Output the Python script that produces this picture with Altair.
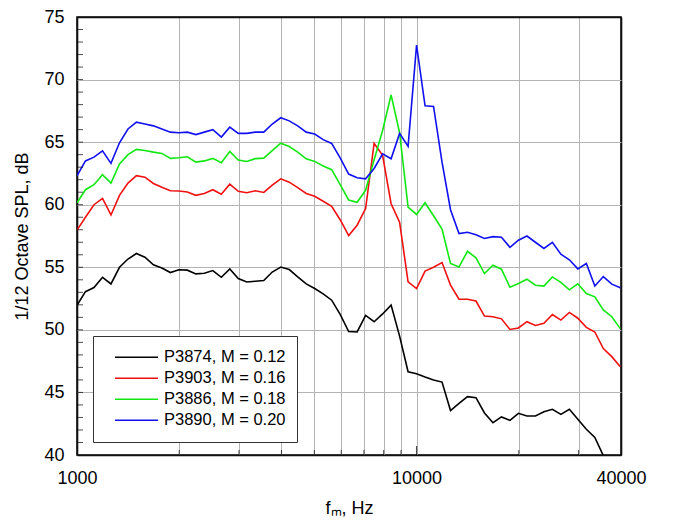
import altair as alt
import pandas as pd

# 1/12-octave band centre frequencies (Hz)
freqs = [1000, 1059, 1122, 1189, 1259, 1334, 1413, 1496, 1585, 1679,
         1778, 1884, 1995, 2113, 2239, 2371, 2512, 2661, 2818, 2985,
         3162, 3350, 3548, 3758, 3981, 4217, 4467, 4732, 5012, 5309,
         5623, 5957, 6310, 6683, 7079, 7499, 7943, 8414, 8913, 9441,
         10000, 10593, 11220, 11885, 12589, 13335, 14125, 14962, 15849, 16788,
         17783, 18836, 19953, 21135, 22387, 23714, 25119, 26607, 28184, 29854,
         31623, 33497, 35481, 37584, 39811]

series_names = ["P3874, M = 0.12", "P3903, M = 0.16", "P3886, M = 0.18", "P3890, M = 0.20"]
series_colors = ["#000000", "#f01010", "#10e810", "#1010f0"]

spl_p3874 = [51.97, 53.05, 53.38, 54.2, 53.67, 55.0, 55.66, 56.1, 55.8, 55.2,
             54.94, 54.58, 54.8, 54.77, 54.47, 54.52, 54.74, 54.2, 54.87, 54.1,
             53.83, 53.88, 53.94, 54.62, 55.02, 54.82, 54.23, 53.67, 53.3, 52.87,
             52.37, 51.23, 49.87, 49.83, 51.15, 50.65, 51.27, 51.98, 49.5, 46.65,
             46.5, 46.23, 46.0, 45.83, 43.55, 44.13, 44.66, 44.58, 43.36, 42.58,
             43.04, 42.77, 43.33, 43.12, 43.12, 43.46, 43.65, 43.25, 43.65, 42.85,
             42.06, 41.4, 39.95]

spl_p3903 = [57.97, 59.0, 60.0, 60.5, 59.18, 60.75, 61.73, 62.32, 62.2, 61.7,
             61.4, 61.12, 61.1, 61.02, 60.75, 60.9, 61.2, 60.84, 61.64, 61.07,
             60.96, 61.12, 60.98, 61.57, 62.07, 61.8, 61.37, 60.9, 60.68, 60.28,
             59.88, 58.8, 57.53, 58.36, 59.69, 64.9, 63.94, 60.08, 58.6, 53.84,
             53.3, 54.7, 55.0, 55.38, 53.58, 52.45, 52.45, 52.3, 51.1, 51.05,
             50.88, 50.03, 50.15, 50.65, 50.35, 50.53, 51.23, 50.78, 51.39, 50.93,
             50.2, 49.83, 48.5, 47.86, 47.06]

spl_p3886 = [60.15, 61.2, 61.6, 62.4, 61.73, 63.25, 64.0, 64.42, 64.33, 64.2,
             64.1, 63.7, 63.75, 63.83, 63.4, 63.5, 63.7, 63.35, 64.26, 63.57,
             63.46, 63.68, 63.72, 64.32, 64.92, 64.65, 64.2, 63.67, 63.46, 63.1,
             62.8, 61.6, 60.38, 60.2, 61.15, 63.6, 65.93, 68.78, 65.75, 59.8,
             59.22, 60.16, 59.12, 58.05, 55.3, 55.03, 56.28, 55.75, 54.5, 55.17,
             54.85, 53.4, 53.7, 54.05, 53.57, 53.5, 54.23, 53.8, 53.2, 53.68,
             52.9, 52.64, 51.6, 51.05, 50.1]

spl_p3890 = [62.3, 63.5, 63.8, 64.3, 63.3, 64.95, 66.05, 66.6, 66.45, 66.3,
             66.05, 65.8, 65.75, 65.8, 65.6, 65.8, 66.0, 65.4, 66.2, 65.7,
             65.7, 65.8, 65.8, 66.45, 66.95, 66.7, 66.3, 65.8, 65.65, 65.2,
             64.9, 63.75, 62.45, 62.15, 62.07, 62.9, 64.07, 63.67, 65.7, 64.66,
             72.75, 67.9, 67.85, 63.4, 59.6, 57.69, 57.8, 57.6, 57.3, 57.45,
             57.4, 56.6, 57.16, 57.5, 57.0, 56.5, 57.0, 56.04, 55.6, 54.87,
             55.3, 53.5, 54.26, 53.65, 53.36]

x_grid_values = [1000, 2000, 3000, 4000, 5000, 6000, 7000, 8000, 9000,
                 10000, 20000, 30000, 40000]
x_minor_ticks = [2000, 3000, 4000, 5000, 6000, 7000, 8000, 9000, 20000, 30000]
x_major_ticks = [10000]
y_grid_values = [40, 45, 50, 55, 60, 65, 70, 75]
y_minor_ticks = [v for v in range(41, 75)]

all_series = [spl_p3874, spl_p3903, spl_p3886, spl_p3890]
rows = []
for order, (name, vals) in enumerate(zip(series_names, all_series)):
    for f, v in zip(freqs, vals):
        rows.append({"f": f, "spl": v, "series": name, "order": order})
df = pd.DataFrame(rows)

FONT = "Liberation Sans"
W, H = 544, 438

xscale = alt.Scale(type="log", domain=[1000, 40000], nice=False)
yscale = alt.Scale(domain=[40, 75], nice=False, zero=False)

x_edge = "datum.value == 1000 || datum.value == 40000"
y_edge = "datum.value == 40 || datum.value == 75"

x_axis = alt.Axis(values=x_grid_values, grid=True, ticks=False,
                  labelExpr="(datum.value == 1000 || datum.value == 10000 || datum.value == 40000) ? format(datum.value, 'd') : ''",
                  labelOverlap=False, labelFlush=False, labelPadding=14,
                  gridColor={"condition": {"test": x_edge, "value": "#111111"}, "value": "#b4b4b4"},
                  gridWidth={"condition": {"test": x_edge, "value": 1.6}, "value": 1},
                  title="fₘ, Hz", titlePadding=12)
y_axis = alt.Axis(values=y_grid_values, grid=True, ticks=False,
                  labelFlush=False, labelPadding=13,
                  gridColor={"condition": {"test": y_edge, "value": "#111111"}, "value": "#b4b4b4"},
                  gridWidth={"condition": {"test": y_edge, "value": 1.6}, "value": 1},
                  title="1/12 Octave SPL, dB", titlePadding=12)

lines = alt.Chart(df).mark_line(strokeWidth=1.6, clip=True).encode(
    x=alt.X("f:Q", scale=xscale, axis=x_axis),
    y=alt.Y("spl:Q", scale=yscale, axis=y_axis),
    color=alt.Color("series:N",
                    scale=alt.Scale(domain=series_names, range=series_colors),
                    legend=alt.Legend(title=None, orient="none", legendX=16, legendY=319,
                                      symbolType="stroke", symbolSize=1849,
                                      symbolStrokeWidth=1.6, clipHeight=20.5,
                                      labelFontSize=16.5, labelFont=FONT,
                                      labelColor="black", labelOffset=5,
                                      symbolOffset=10, rowPadding=0, padding=11,
                                      fillColor="white", strokeColor="#333333")),
    order=alt.Order("order:Q"),
    detail="series:N",
)

xt_minor = alt.Chart(pd.DataFrame({"f": x_minor_ticks})).mark_tick(
    orient="vertical", size=5, thickness=1, color="black").encode(
    x=alt.X("f:Q", scale=xscale, axis=x_axis), y=alt.value(H - 2.5))

xt_major = alt.Chart(pd.DataFrame({"f": x_major_ticks})).mark_tick(
    orient="vertical", size=9, thickness=1.2, color="black").encode(
    x=alt.X("f:Q", scale=xscale, axis=x_axis), y=alt.value(H - 4.5))

yt_minor = alt.Chart(pd.DataFrame({"spl": y_minor_ticks})).mark_tick(
    orient="horizontal", size=6, thickness=1, color="black").encode(
    y=alt.Y("spl:Q", scale=yscale, axis=y_axis), x=alt.value(3))

chart = alt.layer(lines, xt_minor, xt_major, yt_minor).properties(
    width=W, height=H,
    background="white",
    autosize=alt.AutoSizeParams(type="none"),
    padding={"left": 69, "top": 9, "right": 44, "bottom": 64},
).configure_axis(
    labelFont=FONT, titleFont=FONT, labelFontSize=18, titleFontSize=18,
    labelColor="black", titleColor="black", titleFontWeight="normal",
    domain=False,
).configure_view(
    stroke="black", strokeWidth=1.5,
)

chart.save("out.html", embed_options={"renderer": "svg", "actions": False})
